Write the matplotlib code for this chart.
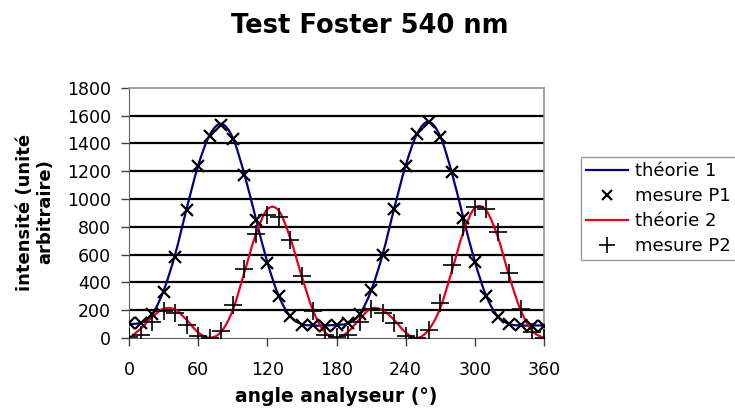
import matplotlib
matplotlib.use("Agg")
import matplotlib.pyplot as plt
from matplotlib.path import Path
from matplotlib.patches import PathPatch
from matplotlib.lines import Line2D
import numpy as np

# ---- data ----
angles = list(range(0, 361, 10))
theory1 = [100, 110, 170, 340, 600, 930, 1240, 1460, 1540, 1440, 1180, 860, 545, 300, 155, 100, 90, 90, 95,
           105, 170, 340, 600, 930, 1240, 1470, 1555, 1450, 1190, 865, 550, 300, 155, 100, 90, 90, 90]
measure_p1 = [105, 105, 175, 330, 585, 920, 1235, 1455, 1530, 1430, 1175, 850, 540, 305, 155, 95, 93, 85, 93,
              105, 175, 345, 598, 930, 1235, 1468, 1552, 1445, 1193, 860, 550, 302, 153, 98, 93, 88, 88]
theory2 = [0, 65, 150, 210, 205, 130, 40, 2, 45, 200, 470, 745, 925, 915, 715, 440, 190, 42, 0,
           45, 135, 212, 200, 130, 40, 0, 60, 215, 480, 760, 935, 915, 725, 440, 195, 50, 0]
measure_p2 = [8, 25, 118, 192, 178, 92, 14, 2, 50, 240, 495, 750, 882, 872, 705, 445, 195, 25, 5,
              21, 115, 206, 182, 105, 12, 0, 57, 255, 528, 800, 945, 925, 760, 465, 210, 45, 0]
xticks = [0, 60, 120, 180, 240, 300, 360]
yticks = list(range(0, 1801, 200))

title = "Test Foster 540 nm"
xlabel = "angle analyseur (°)"
ylabel = "intensité (unité\narbitraire)"
labels = ["théorie 1", "mesure P1", "théorie 2", "mesure P2"]

BLUE = "#000080"
RED = "#E8001C"


def smooth_path(xs, ys):
    """Excel-like smoothed line: cubic Bezier through the given nodes."""
    xs = np.asarray(xs, float)
    ys = np.asarray(ys, float)
    n = len(xs)
    verts = [(xs[0], ys[0])]
    codes = [Path.MOVETO]
    t = 1.0 / 6.0
    for i in range(n - 1):
        p0 = (xs[max(i - 1, 0)], ys[max(i - 1, 0)])
        p1 = (xs[i], ys[i])
        p2 = (xs[i + 1], ys[i + 1])
        p3 = (xs[min(i + 2, n - 1)], ys[min(i + 2, n - 1)])
        c1 = (p1[0] + (p2[0] - p0[0]) * t, p1[1] + (p2[1] - p0[1]) * t)
        c2 = (p2[0] - (p3[0] - p1[0]) * t, p2[1] - (p3[1] - p1[1]) * t)
        verts += [c1, c2, p2]
        codes += [Path.CURVE4] * 3
    return Path(verts, codes)


fig = plt.figure(figsize=(7.35, 4.08), dpi=100)
ax = fig.add_axes([129 / 735, 1 - 338 / 408, (544 - 129) / 735, (338 - 87.7) / 408])

ax.set_xlim(0, 360)
ax.set_ylim(0, 1800)

for yv in yticks[1:-1]:
    ax.axhline(yv, color="black", lw=1.6, zorder=1)

for th, col in ((theory1, BLUE), (theory2, RED)):
    ax.add_patch(PathPatch(smooth_path(angles, th), facecolor="none", edgecolor=col, lw=1.6, zorder=3,
                           transform=ax.transData))

ax.plot(angles, measure_p1, linestyle="none", marker="x", color="black", ms=9, mew=1.6, zorder=4)
ax.plot(angles, measure_p2, linestyle="none", marker="+", color="black", ms=13, mew=1.2, zorder=4)

ax.set_xticks(xticks)
ax.set_yticks(yticks)
ax.tick_params(axis="both", direction="out", length=6, width=1, color="#404040", labelsize=12.5)
ax.tick_params(axis="x", pad=10.5)
ax.tick_params(axis="y", pad=7)

for s in ("top", "right"):
    ax.spines[s].set_color("#909090")
    ax.spines[s].set_linewidth(1.2)
ax.spines["left"].set_color("#606060")
ax.spines["bottom"].set_color("#606060")

fig.text(370 / 735, 1 - 26 / 408, title, ha="center", va="center", fontsize=18.5, fontweight="bold")
fig.text(336 / 735, 1 - 396 / 408, xlabel, ha="center", va="center", fontsize=13.5, fontweight="bold")
fig.text(35 / 735, 1 - 212 / 408, ylabel, ha="center", va="center", rotation=90, fontsize=13,
         fontweight="bold", linespacing=1.2, multialignment="center")

handles = [Line2D([], [], color=BLUE, lw=1.6),
           Line2D([], [], ls="none", marker="x", color="black", ms=7, mew=1.6),
           Line2D([], [], color=RED, lw=1.6),
           Line2D([], [], ls="none", marker="+", color="black", ms=12, mew=1.2)]
leg = fig.legend(handles, labels, loc="upper left", bbox_to_anchor=(581 / 735, 1 - 157 / 408),
                 frameon=True, fancybox=False, fontsize=13, handlelength=2.3, handletextpad=0.4,
                 labelspacing=0.38, borderpad=0.3, borderaxespad=0)
leg.get_frame().set_edgecolor("#808080")
leg.get_frame().set_linewidth(1.0)

fig.savefig("out.png", dpi=100)
